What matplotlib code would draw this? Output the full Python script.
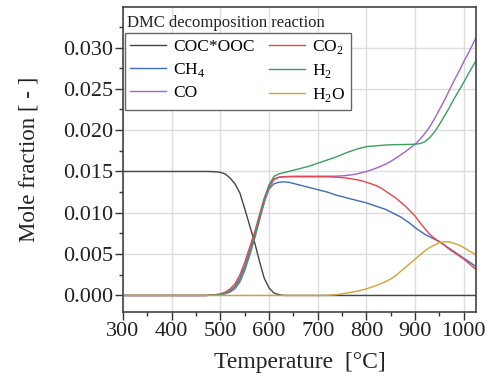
import matplotlib
matplotlib.use("Agg")
import matplotlib.pyplot as plt
from matplotlib.ticker import MultipleLocator

plt.rcParams['font.family'] = ['Liberation Serif', 'DejaVu Serif']
plt.rcParams['mathtext.fontset'] = 'custom'
plt.rcParams['mathtext.rm'] = 'Liberation Serif'

# temperature grid (degC) shared by every species
temp = [300, 460, 470, 480, 490, 500, 510, 520, 530, 540, 550, 560, 570, 580,
        590, 600, 610, 620, 630, 640, 650, 660, 670, 680, 690, 700, 710, 720,
        730, 740, 750, 760, 770, 780, 790, 800, 810, 820, 830, 840, 850, 860,
        870, 880, 890, 900, 910, 920, 930, 940, 950, 960, 970, 980, 990, 1000,
        1010, 1020, 1025]

coc = [0.0150, 0.0150, 0.0150, 0.01499, 0.01496, 0.0149, 0.0147, 0.0142, 0.0135,
       0.0124, 0.0105, 0.0085, 0.0065, 0.0042, 0.0021, 0.0009, 0.0003, 0.0001,
       0.0, 0.0, 0.0, 0.0, 0.0, 0.0, 0.0, 0.0, 0.0, 0.0,
       0.0, 0.0, 0.0, 0.0, 0.0, 0.0, 0.0, 0.0, 0.0, 0.0, 0.0, 0.0, 0.0, 0.0,
       0.0, 0.0, 0.0, 0.0, 0.0, 0.0, 0.0, 0.0, 0.0, 0.0, 0.0, 0.0, 0.0, 0.0,
       0.0, 0.0, 0.0]

co2 = [0.0, 0.0, 0.0, 0.00005, 0.0001, 0.0002, 0.0004, 0.0008, 0.0014, 0.0025,
       0.0040, 0.0058, 0.0076, 0.0097, 0.0118, 0.0133, 0.0141, 0.0143, 0.01435,
       0.01436, 0.01436, 0.01436, 0.01436, 0.01436, 0.01436, 0.01436, 0.01436,
       0.01435, 0.01433, 0.0143, 0.01426, 0.0142, 0.0141, 0.0140, 0.01387,
       0.0137, 0.0135, 0.0133, 0.01298, 0.0126, 0.0122, 0.0118, 0.0113, 0.0108,
       0.0102, 0.0096, 0.0088, 0.0081, 0.0074, 0.0069, 0.0065, 0.0061, 0.0056,
       0.0052, 0.0048, 0.0044, 0.0039, 0.0034, 0.0032]

ch4 = [0.0, 0.0, 0.0, 0.00003, 0.00006, 0.0001, 0.0003, 0.0006, 0.0011, 0.0021,
       0.0035, 0.0053, 0.0072, 0.0093, 0.0114, 0.0129, 0.0135, 0.0137, 0.01375,
       0.0137, 0.01356, 0.0134, 0.01325, 0.0131, 0.01295, 0.0128, 0.01265,
       0.0125, 0.0123, 0.0121, 0.01195, 0.0118, 0.01165, 0.0115, 0.01135,
       0.0112, 0.0110, 0.0108, 0.0106, 0.0104, 0.0101, 0.0098, 0.0095, 0.0091,
       0.0087, 0.0082, 0.0078, 0.0074, 0.0071, 0.0068, 0.0065, 0.0061, 0.0057,
       0.0053, 0.0049, 0.0045, 0.0041, 0.0037, 0.0035]

h2 = [0.0, 0.0, 0.0, 0.00003, 0.00006, 0.0001, 0.0003, 0.0005, 0.0010, 0.0018,
      0.0032, 0.0050, 0.0070, 0.0092, 0.0115, 0.0134, 0.0144, 0.0147, 0.01485,
      0.0150, 0.01515, 0.0153, 0.01545, 0.0156, 0.0158, 0.0160, 0.0162,
      0.0164, 0.0166, 0.0168, 0.01705, 0.0173, 0.0175, 0.0177, 0.01787,
      0.0180, 0.01807, 0.0181, 0.01816, 0.0182, 0.01823, 0.01825, 0.01826,
      0.01827, 0.01828, 0.0183, 0.01838, 0.0186, 0.0191, 0.0198, 0.0207,
      0.0217, 0.0227, 0.0238, 0.0248, 0.0258, 0.0269, 0.0279, 0.0284]

co = [0.0, 0.0, 0.0, 0.00002, 0.00004, 0.0001, 0.0002, 0.0004, 0.0008, 0.0016,
      0.0030, 0.0048, 0.0068, 0.0090, 0.0112, 0.0130, 0.0140, 0.0143, 0.01437,
      0.0144, 0.01443, 0.01443, 0.01443, 0.01443, 0.01443, 0.01443, 0.01443,
      0.01443, 0.01443, 0.01444, 0.01447, 0.01452, 0.0146, 0.0147, 0.01485,
      0.0150, 0.0152, 0.0154, 0.01565, 0.0159, 0.01622, 0.0166, 0.0170,
      0.0174, 0.01785, 0.0183, 0.0189, 0.0196, 0.0204, 0.0214, 0.0225, 0.0236,
      0.0248, 0.0260, 0.0271, 0.0283, 0.0294, 0.0306, 0.0312]

h2o = [0.0, 0.0, 0.0, 0.0, 0.0, 0.0, 0.0, 0.0, 0.0, 0.0, 0.0, 0.0, 0.0, 0.0,
       0.0, 0.0, 0.0, 0.0, 0.0, 0.0, 0.0, 0.0, 0.0, 0.0, 0.0, 0.0, 0.0,
       0.00002, 0.00005, 0.0001, 0.0002, 0.0003, 0.0004, 0.0005, 0.00065,
       0.0008, 0.0010, 0.0012, 0.00145, 0.0017, 0.0020, 0.0024, 0.0029,
       0.0034, 0.0039, 0.0044, 0.0049, 0.0054, 0.0058, 0.0061, 0.0064, 0.0065,
       0.00648, 0.0063, 0.0061, 0.0058, 0.0054, 0.0051, 0.0049]

species = [
    ("COC*OOC", coc, "#454545"),
    ("CH$_4$", ch4, "#3d6cc0"),
    ("CO", co, "#a064c8"),
    ("CO$_2$", co2, "#e8444c"),
    ("H$_2$", h2, "#3c9e60"),
    ("H$_2$O", h2o, "#d4a232"),
]

fig = plt.figure(figsize=(4.92, 3.83), dpi=100)
ax = fig.add_axes([0.25, 0.1854, 0.7175, 0.7963])

for label, vals, col in species:
    ax.plot(temp, vals, color=col, lw=1.0, label=label)

ax.set_xlim(300, 1025)
ax.set_ylim(-0.002, 0.0349)
ax.xaxis.set_major_locator(MultipleLocator(100))
ax.xaxis.set_minor_locator(MultipleLocator(50))
ax.yaxis.set_major_locator(MultipleLocator(0.005))
ax.yaxis.set_minor_locator(MultipleLocator(0.0025))
ax.yaxis.set_major_formatter(plt.FormatStrFormatter('%.3f'))

ax.grid(True, which='major', color='#dddddd', lw=1.0)
ax.set_axisbelow(True)
ax.tick_params(which='major', direction='out', length=5.5, width=1.0, pad=1.5,
               labelsize=16, colors='#333333', labelcolor='#222222')
ax.tick_params(which='minor', direction='out', length=3, width=1.0,
               colors='#333333')
for s in ax.spines.values():
    s.set_color('#444444')
    s.set_linewidth(1.2)

ax.set_xlabel("Temperature  [\u00b0C]", fontsize=17, color='#222222', labelpad=8)
ax.set_ylabel("Mole fraction [ - ]", fontsize=16.5, color='#222222', labelpad=17)

ax.text(0.012, 0.975, "DMC decomposition reaction", transform=ax.transAxes,
        fontsize=12, va='top', ha='left', color='#222222')

leg = ax.legend(ncol=2, loc='upper left', bbox_to_anchor=(0.005, 0.915),
                fontsize=12.5, frameon=True, fancybox=False, framealpha=1,
                edgecolor='#666666', handlelength=2.1, handletextpad=0.4,
                columnspacing=0.8, labelspacing=0.35, borderpad=0.3,
                borderaxespad=0.0)
leg.get_frame().set_linewidth(1.0)

fig.savefig("out.png", dpi=100)
